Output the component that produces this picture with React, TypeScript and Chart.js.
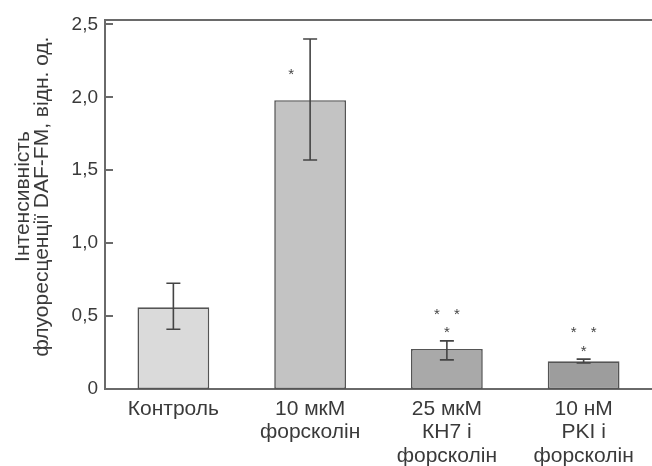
import React, { useEffect, useRef } from "react";
import { Chart, registerables } from "chart.js";

Chart.register(...registerables);

// Groups along the x axis (multi-line labels)
const categories: string[][] = [
  ["Контроль"],
  ["10 мкМ", "форсколін"],
  ["25 мкМ", "КН7 і", "форсколін"],
  ["10 нМ", "PKI і", "форсколін"],
];

// Mean fluorescence intensity, rel. units
const means = [0.56, 1.98, 0.275, 0.19];
// Error bar bounds
const errLow = [0.41, 1.57, 0.2, 0.178];
const errHigh = [0.725, 2.4, 0.33, 0.205];

// Y axis ticks and their labels
const yTicks = [0, 0.5, 1.0, 1.5, 2.0, 2.5];
const yTickLabels = ["0", "0,5", "1,0", "1,5", "2,0", "2,5"];
const yMax = 2.53;

// Significance marks: category index, value level, number of asterisks in the row
const markCategory = [1, 2, 2, 3, 3];
const markLevel = [2.18, 0.535, 0.41, 0.41, 0.28];
const markCount = [1, 2, 1, 2, 1];

const yTitle = ["Інтенсивність", "флуоресценції DAF-FM, відн. од."];

const barColors = ["#dadada", "#c3c3c3", "#a9a9a9", "#9d9d9d"];
const FONT = "'Liberation Sans', Arial, Helvetica, sans-serif";
const AXIS_COLOR = "#6a6a6a";
const TEXT_COLOR = "#3a3a3a";

const decorPlugin = {
  id: "decor",
  afterDatasetsDraw(chart: any) {
    const { ctx, chartArea, scales } = chart;
    const y = scales.y;
    const meta = chart.getDatasetMeta(0);
    ctx.save();

    // top frame line
    ctx.strokeStyle = AXIS_COLOR;
    ctx.lineWidth = 2;
    ctx.beginPath();
    ctx.moveTo(chartArea.left - 1, chartArea.top);
    ctx.lineTo(chartArea.right, chartArea.top);
    ctx.stroke();

    // inward tick marks on the y axis
    yTicks.forEach((v) => {
      const py = Math.round(y.getPixelForValue(v));
      ctx.beginPath();
      ctx.moveTo(chartArea.left, py);
      ctx.lineTo(chartArea.left + 8, py);
      ctx.stroke();
    });

    // error bars
    ctx.strokeStyle = "#444";
    ctx.lineWidth = 1.6;
    means.forEach((_, i) => {
      const bar = meta.data[i];
      const x = bar.x;
      const yh = y.getPixelForValue(errHigh[i]);
      const yl = y.getPixelForValue(errLow[i]);
      const cap = 7;
      ctx.beginPath();
      ctx.moveTo(x, yh);
      ctx.lineTo(x, yl);
      ctx.moveTo(x - cap, yh);
      ctx.lineTo(x + cap, yh);
      ctx.moveTo(x - cap, yl);
      ctx.lineTo(x + cap, yl);
      ctx.stroke();
    });

    // asterisks
    ctx.fillStyle = "#444";
    ctx.font = `15px ${FONT}`;
    ctx.textAlign = "center";
    ctx.textBaseline = "alphabetic";
    markCategory.forEach((c, k) => {
      const bar = meta.data[c];
      const py = y.getPixelForValue(markLevel[k]) + 8;
      if (markCount[k] === 1) {
        const dx = c === 1 ? -19 : 0;
        ctx.fillText("*", bar.x + dx, py);
      } else {
        ctx.fillText("*", bar.x - 10, py);
        ctx.fillText("*", bar.x + 10, py);
      }
    });

    // rotated y axis title
    ctx.fillStyle = TEXT_COLOR;
    ctx.font = `21px ${FONT}`;
    ctx.textBaseline = "middle";
    const cy = (chartArea.top + chartArea.bottom) / 2 - 8;
    ctx.translate(23, cy);
    ctx.rotate(-Math.PI / 2);
    ctx.fillText(yTitle[0], 0, 0);
    ctx.fillText(yTitle[1], 0, 19);
    ctx.restore();
  },
};

export default function App() {
  const canvasRef = useRef<HTMLCanvasElement | null>(null);

  useEffect(() => {
    const canvas = canvasRef.current;
    if (!canvas) return;
    const chart = new Chart(canvas, {
      type: "bar",
      data: {
        labels: categories,
        datasets: [
          {
            data: means,
            backgroundColor: barColors,
            borderColor: "#555",
            borderWidth: 1.6,
            borderSkipped: false,
            categoryPercentage: 1,
            barPercentage: 0.525,
          },
        ],
      },
      options: {
        animation: false,
        responsive: false,
        devicePixelRatio: 1,
        layout: { padding: { top: 20, right: 0, bottom: 0, left: 0 } },
        plugins: {
          legend: { display: false },
          tooltip: { enabled: false },
        },
        scales: {
          x: {
            offset: true,
            grid: { display: false, drawTicks: false },
            border: { display: true, color: AXIS_COLOR, width: 2 },
            ticks: {
              color: TEXT_COLOR,
              font: { family: FONT, size: 21, lineHeight: 1.1 },
              padding: 9,
              maxRotation: 0,
              autoSkip: false,
            },
            afterFit: (s: any) => {
              s.height = 77;
            },
          },
          y: {
            min: 0,
            max: yMax,
            afterBuildTicks: (s: any) => {
              s.ticks = yTicks.map((v) => ({ value: v }));
            },
            grid: { display: false, drawTicks: false },
            border: { display: true, color: AXIS_COLOR, width: 2 },
            ticks: {
              color: TEXT_COLOR,
              font: { family: FONT, size: 19 },
              padding: 7,
              callback: (v: any) => {
                const i = yTicks.indexOf(Number(v));
                return i >= 0 ? yTickLabels[i] : "";
              },
            },
            afterFit: (s: any) => {
              s.width = 105;
            },
          },
        },
      },
      plugins: [decorPlugin],
    });
    return () => chart.destroy();
  }, []);

  return (
    <div style={{ position: "absolute", left: 0, top: 0, width: 652, height: 466, background: "#fff" }}>
      <canvas ref={canvasRef} width={652} height={466} />
    </div>
  );
}
